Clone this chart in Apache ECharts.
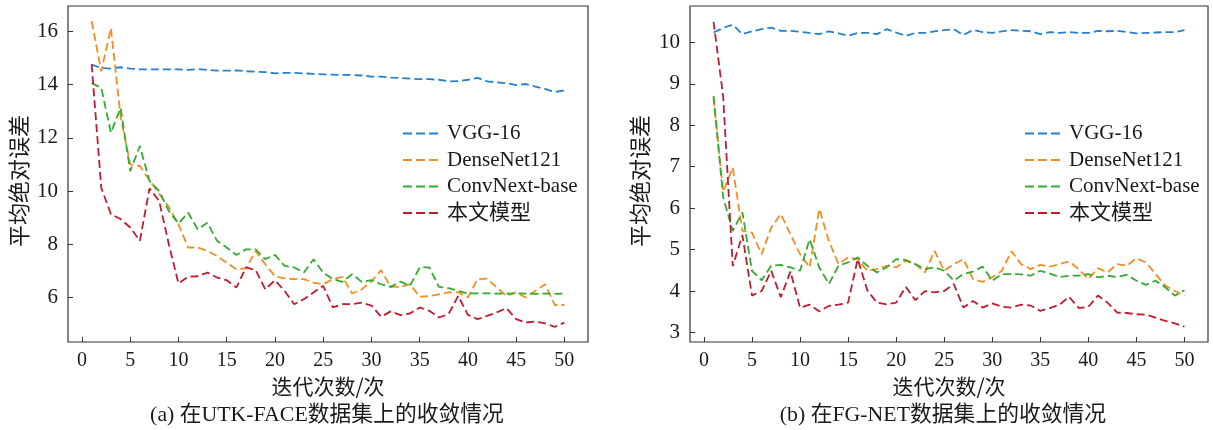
<!DOCTYPE html>
<html>
<head>
<meta charset="utf-8">
<script src="https://cdn.jsdelivr.net/npm/echarts@6/dist/echarts.min.js"></script>
<style>html,body{margin:0;padding:0;background:#fff;}#c{width:1213px;height:430px;}</style>
</head>
<body>
<div id="c"></div>
<script>
const epochs = Array.from({length: 50}, (_, i) => i + 1);
const xTicks = [0, 5, 10, 15, 20, 25, 30, 35, 40, 45, 50];
const yTicksA = [6, 8, 10, 12, 14, 16];
const yTicksB = [3, 4, 5, 6, 7, 8, 9, 10];
const seriesNames = ['VGG-16', 'DenseNet121', 'ConvNext-base', '本文模型'];

// (a) UTK-FACE
const vggA = [14.75,14.62,14.6,14.65,14.6,14.57,14.57,14.57,14.57,14.57,14.55,14.58,14.55,14.52,14.52,14.53,14.5,14.48,14.47,14.42,14.44,14.44,14.42,14.4,14.38,14.37,14.36,14.36,14.34,14.3,14.3,14.26,14.25,14.22,14.2,14.2,14.18,14.12,14.13,14.18,14.25,14.12,14.08,14.05,13.98,14.02,13.92,13.84,13.72,13.78];
const denseA = [16.38,14.5,16.12,12.8,11.0,10.94,10.4,9.9,9.4,8.75,7.88,7.88,7.75,7.56,7.31,7.06,7.1,7.75,7.25,6.8,6.72,6.69,6.69,6.56,6.5,6.69,6.78,6.15,6.31,6.6,7.03,6.4,6.4,6.5,6.03,6.05,6.12,6.19,6.2,6.0,6.69,6.71,6.37,6.06,6.19,6.0,6.25,6.5,5.72,5.72];
const convA = [14.06,13.87,12.19,13.12,10.75,11.69,10.38,10.0,9.25,8.78,9.19,8.56,8.81,8.13,7.88,7.6,7.81,7.81,7.44,7.6,7.19,7.13,6.94,7.44,6.94,6.69,6.59,6.88,6.59,6.65,6.5,6.4,6.6,6.44,7.13,7.13,6.4,6.35,6.25,6.15,6.16,6.16,6.15,6.15,6.16,6.15,6.14,6.15,6.14,6.15];
const oursA = [14.76,10.12,9.13,8.95,8.63,8.13,10.1,9.63,8.0,6.53,6.78,6.8,6.94,6.75,6.65,6.38,7.13,7.03,6.31,6.65,6.25,5.75,5.94,6.19,6.44,5.63,5.75,5.75,5.81,5.7,5.28,5.48,5.34,5.4,5.63,5.5,5.25,5.38,6.06,5.35,5.19,5.31,5.44,5.6,5.19,5.06,5.1,5.03,4.9,5.06];

// (b) FG-NET
const vggB = [10.24,10.35,10.43,10.2,10.27,10.32,10.36,10.28,10.28,10.26,10.23,10.2,10.27,10.22,10.16,10.23,10.23,10.2,10.32,10.24,10.16,10.23,10.23,10.27,10.3,10.32,10.18,10.3,10.25,10.23,10.27,10.3,10.28,10.27,10.2,10.25,10.23,10.25,10.23,10.23,10.28,10.27,10.28,10.25,10.22,10.23,10.24,10.25,10.25,10.3];
const denseB = [8.65,6.4,6.98,5.45,5.41,4.89,5.53,5.86,5.37,4.89,4.57,5.98,5.21,4.65,4.81,4.77,4.49,4.53,4.61,4.57,4.73,4.65,4.45,4.97,4.49,4.65,4.77,4.29,4.22,4.33,4.49,4.96,4.65,4.53,4.63,4.59,4.65,4.71,4.53,4.29,4.55,4.45,4.65,4.61,4.79,4.69,4.41,4.13,4.0,3.89];
const convB = [8.71,6.26,5.45,5.9,4.49,4.26,4.61,4.63,4.57,4.49,5.25,4.57,4.17,4.61,4.69,4.81,4.61,4.45,4.57,4.77,4.75,4.65,4.53,4.57,4.49,4.25,4.41,4.47,4.59,4.25,4.41,4.41,4.4,4.37,4.49,4.42,4.34,4.37,4.37,4.41,4.33,4.37,4.34,4.39,4.25,4.15,4.25,4.09,3.89,4.02];
const oursB = [10.5,8.7,4.6,5.35,3.89,4.0,4.49,3.85,4.47,3.6,3.67,3.51,3.64,3.67,3.72,4.77,4.02,3.72,3.68,3.72,4.1,3.78,4.0,3.97,4.0,4.17,3.6,3.76,3.6,3.7,3.62,3.6,3.67,3.65,3.52,3.59,3.67,3.86,3.59,3.62,3.89,3.72,3.48,3.47,3.44,3.43,3.36,3.28,3.22,3.14];

const colors = ['#2580cc', '#f28e1f', '#30ad30', '#c01c30'];
const serif = 'Liberation Serif, "Noto Sans CJK SC", serif';
const cjk = '"Noto Sans CJK SC", sans-serif';
const txt = '#1a1a1a';
const dashIcon = 'path://M0,0H9V2H0Z M13,0H22V2H13Z M26,0H35V2H26Z';

function pairs(arr) { return arr.map((v, i) => [epochs[i], v]); }

function mkSeries(list, gi) {
  return list.map((arr, si) => ({
    name: seriesNames[si],
    type: 'line',
    xAxisIndex: gi, yAxisIndex: gi,
    data: pairs(arr),
    symbol: 'none',
    smooth: false,
    color: colors[si],
    lineStyle: {color: colors[si], width: 1.8, type: [8, 4]},
    z: 2 + si
  }));
}

function xAx(gi) {
  return {
    type: 'value', gridIndex: gi, min: -1.45, max: 52.45,
    name: '迭代次数/次', nameLocation: 'middle', nameGap: 31,
    nameTextStyle: {fontFamily: cjk, fontSize: 21, color: txt},
    axisLine: {show: false, onZero: false},
    axisTick: {show: true, inside: true, length: 5, customValues: xTicks, lineStyle: {color: '#333', width: 1}},
    axisLabel: {customValues: xTicks, fontFamily: serif, fontSize: 20, color: txt, margin: 9},
    splitLine: {show: false}
  };
}
function yAx(gi, min, max, ticks, gap) {
  return {
    type: 'value', gridIndex: gi, min: min, max: max,
    name: '平均绝对误差', nameLocation: 'middle', nameGap: gap,
    nameTextStyle: {fontFamily: cjk, fontSize: 22, color: txt, padding: [0, 14, 0, 0]},
    axisLine: {show: false, onZero: false},
    axisTick: {show: true, inside: true, length: 5, customValues: ticks, lineStyle: {color: '#333', width: 1}},
    axisLabel: {customValues: ticks, fontFamily: serif, fontSize: 21, color: txt, margin: 10},
    splitLine: {show: false}
  };
}
function leg(left) {
  return {
    orient: 'vertical', left: left, top: 118,
    itemWidth: 35, itemHeight: 2, itemGap: 5.5,
    data: seriesNames.map((n, i) => ({name: n, icon: dashIcon, itemStyle: {color: colors[i]}})),
    selectedMode: false,
    textStyle: {fontFamily: serif, fontSize: 21, color: txt, lineHeight: 21, padding: [0, 0, 0, 4]}
  };
}

const chart = echarts.init(document.getElementById('c'), null, {renderer: 'canvas'});
chart.setOption({
  backgroundColor: '#fff',
  animation: false,
  grid: [
    {left: 68, top: 6, width: 520, height: 336, show: true, borderColor: '#333', borderWidth: 1.2, backgroundColor: 'transparent'},
    {left: 690, top: 6, width: 518, height: 336, show: true, borderColor: '#333', borderWidth: 1.2, backgroundColor: 'transparent'}
  ],
  title: [
    {text: '(a) 在UTK-FACE数据集上的收敛情况', left: 322, top: 399, textAlign: 'center',
     textStyle: {fontFamily: serif, fontSize: 21.8, fontWeight: 'normal', color: txt}},
    {text: '(b) 在FG-NET数据集上的收敛情况', left: 938, top: 399, textAlign: 'center',
     textStyle: {fontFamily: serif, fontSize: 21.8, fontWeight: 'normal', color: txt}}
  ],
  legend: [leg(398), leg(1020)],
  xAxis: [xAx(0), xAx(1)],
  yAxis: [yAx(0, 4.33, 16.95, yTicksA, 38), yAx(1, 2.77, 10.88, yTicksB, 39)],
  series: mkSeries([vggA, denseA, convA, oursA], 0).concat(mkSeries([vggB, denseB, convB, oursB], 1))
});
</script>
</body>
</html>
